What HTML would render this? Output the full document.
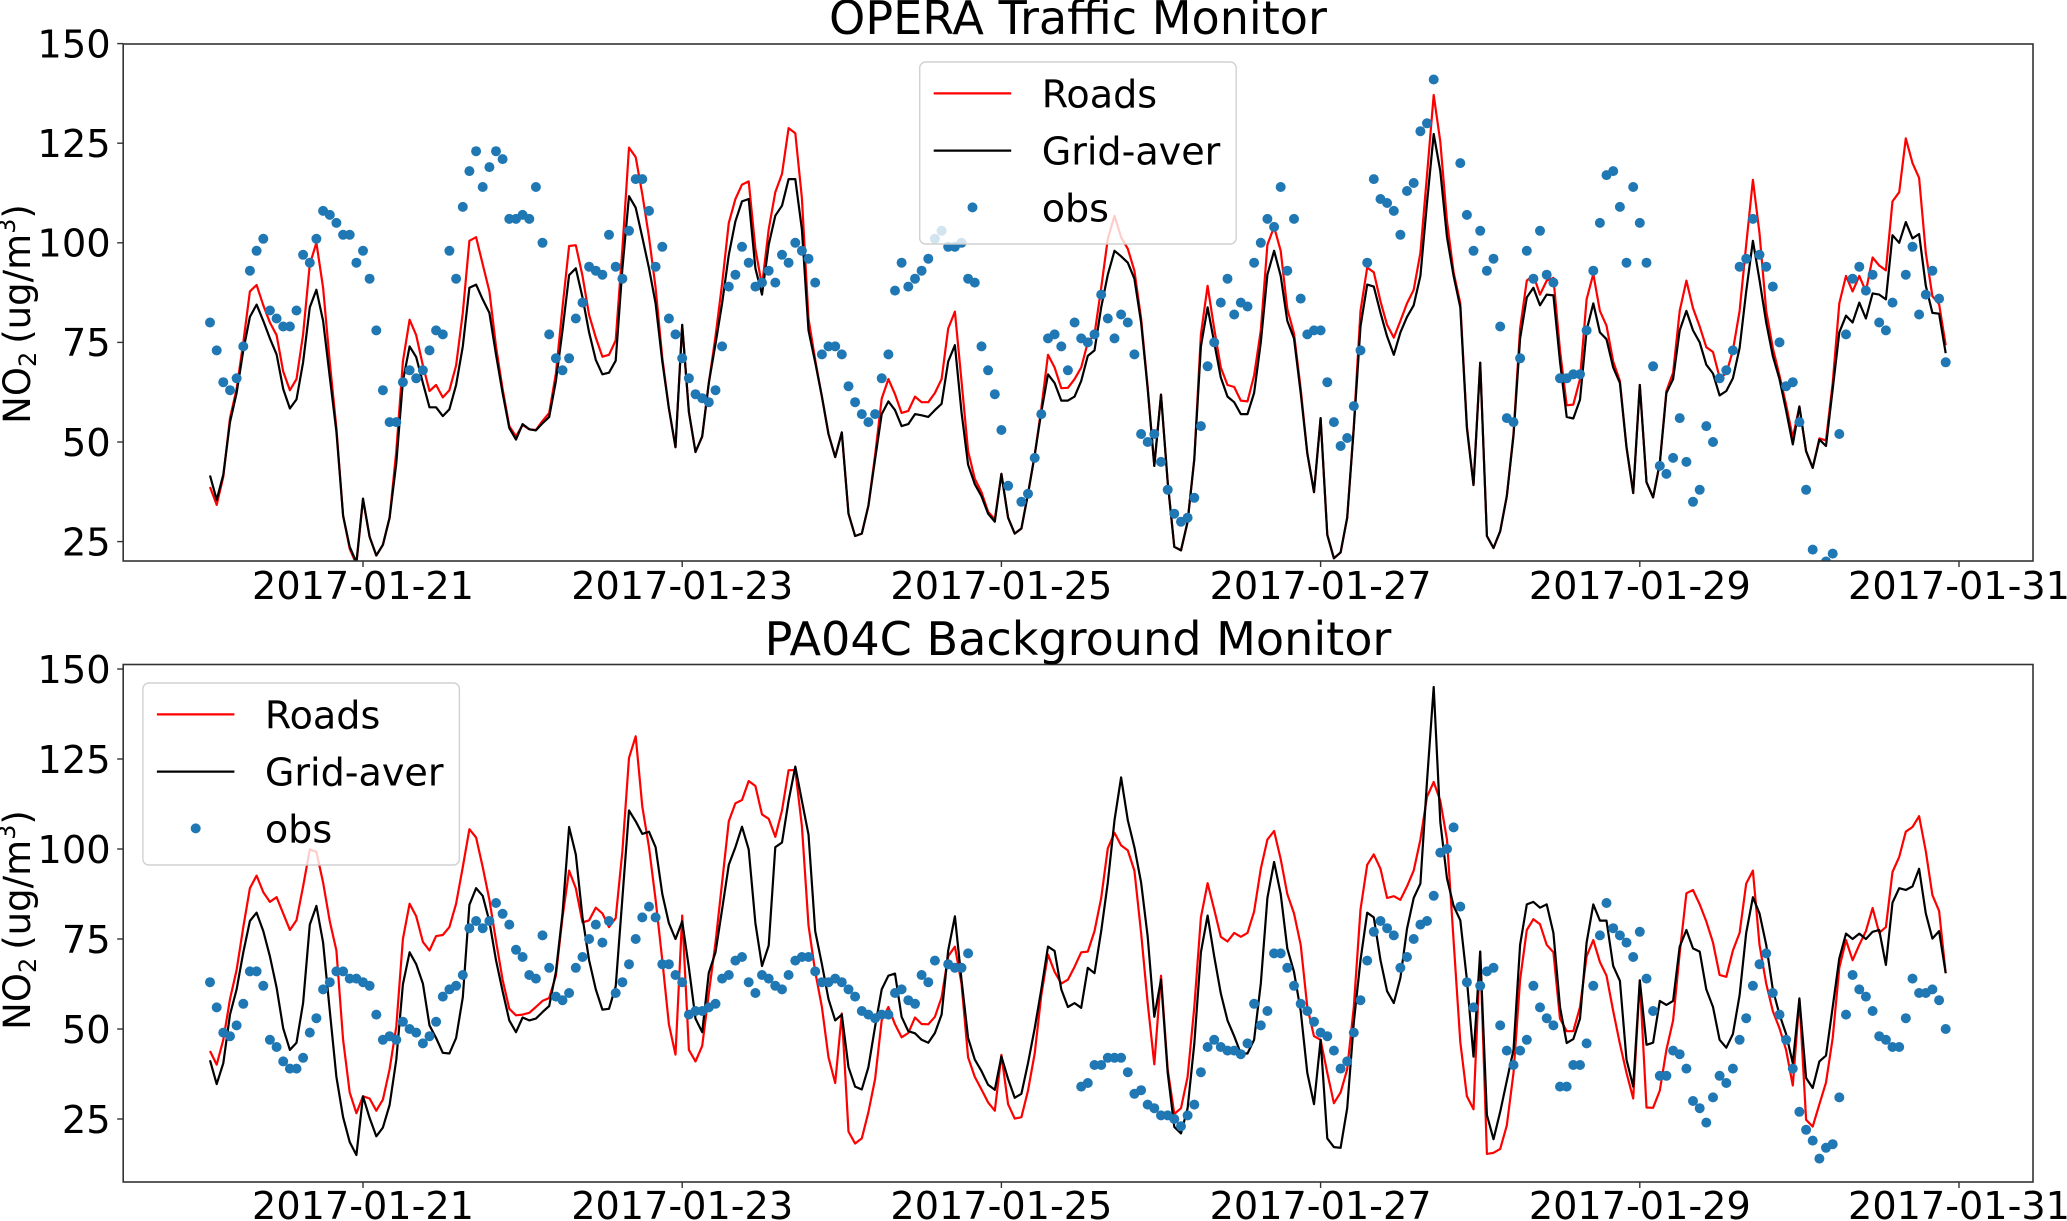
<!DOCTYPE html>
<html>
<head>
<meta charset="utf-8">
<title>NO2 monitors</title>
<style>
html,body{margin:0;padding:0;background:#fff;}
body{width:2067px;height:1221px;overflow:hidden;}
svg{display:block;font-family:"DejaVu Sans","Liberation Sans",sans-serif;}
</style>
</head>
<body>
<svg id="chart" xmlns="http://www.w3.org/2000/svg" width="2067" height="1221" viewBox="0 0 2067 1221">
<rect width="2067" height="1221" fill="#fff"/>
<defs>
<clipPath id="clip-top"><rect x="123.2" y="44" width="1909.8" height="517"/></clipPath>
<clipPath id="clip-bottom"><rect x="123.2" y="664.5" width="1909.8" height="517.5"/></clipPath>
</defs>
<g id="panel-top"></g>
<g id="panel-bottom"></g>
</svg>
<script>
const xTickLabels = ["2017-01-21","2017-01-23","2017-01-25","2017-01-27","2017-01-29","2017-01-31"];
const yTickValues = [25,50,75,100,125,150];

const opRoads = [
38.7,34.2,41.3,56,63.3,75,87.8,89.4,84.3,80,
76.8,67.7,63,65.8,77,94.6,100,88.7,70,53.5,
31.5,23.2,19.3,35.6,26.2,21.5,24.2,31,47.7,70.2,
80.7,76.8,69.2,62.8,64.3,61.2,63,69.2,82.4,100.5,
101.4,94.6,87.8,74,63.3,54,51.4,54.3,53.2,53,
55.3,57.3,67.2,83.8,99.2,99.4,91.7,81.9,76.2,71.4,
71.9,75.5,98.5,123.9,121.5,112.2,101.4,88.7,71.1,58.4,
48.7,79.4,57.5,47.5,51.4,64.8,76.5,89.7,105,111,
114.6,115.4,98.5,89.2,103.4,112.7,117.3,128.8,127.5,111.2,
81,70.6,61.4,52,46.2,52.4,32,26.4,27,34,
46.7,60.9,65.8,62,57.3,57.8,61.4,60,60,62.3,
65.8,78.5,82.7,65.3,47.7,40.8,37.4,32.5,30.6,42,
31,27,28.3,37,46.7,58.4,71.9,68.7,63.5,63.6,
65.8,68.7,75,77,88.7,101,106.8,101.4,98.5,93,
81,63.8,44,61.9,39.9,23.7,22.8,30,45.7,77,
89.2,78.5,68.7,64.3,63.8,60.4,60.2,66.7,78,99.5,
104,98,83.4,77.2,63.3,47.2,37.4,56,26.7,20.8,
22.3,31,54,82.9,93.8,92.6,85.3,79.4,76.2,80.4,
84.8,88.2,97.5,117,137.1,125.4,105.4,92.6,84.8,54,
39.2,69.9,26.4,23.4,27.6,36.4,52.1,78.5,90.5,91.9,
87,90.5,91.2,73,59.2,59.4,65.8,85.8,92.2,82.9,
79.2,70.2,65.3,48.7,37.2,64.3,39.9,36.1,44.7,62.8,
67.4,82.9,90.5,83.6,79,73.8,72.6,66.2,67.2,73,
82.9,99.5,115.8,102.4,82.9,73.6,66.7,59.4,51.1,58.9,
47.7,43.5,50.9,50.4,64.8,84.8,91.7,87.8,91.7,87.8,
96.3,94.3,93.1,110.4,112.7,126.2,120,116.3,97.5,86.6,
84.6,74.3];

const opGrid = [
41.6,35.5,41.8,55,62.3,73,81.4,84.5,80.4,76,
72,63.3,58.4,60.7,70,83.8,88.2,80.4,66.3,52.6,
31.5,23.7,19.8,35.8,26.2,21.5,24.2,31,44.7,65.3,
74,71.3,64.8,58.7,58.7,56.5,58.2,64.3,74,88.7,
89.5,85.8,82.4,72,62.3,53.5,50.6,54.5,53.2,52.9,
54.7,56.3,65.3,78,91.9,93.6,86.3,77.5,70.6,67,
67.4,70.4,93.6,111.7,108.8,101.4,93.6,84.8,70.2,58.4,
48.7,79.4,57.5,47.5,51.4,64.8,74.6,84.8,97,105.4,
110.4,111,93.6,87,99.5,106.8,109.3,116,116,103.4,
78,70,61.4,52,46.2,52.4,32,26.4,27,34,
45.7,57,60.2,58,54,54.5,57,56.7,56.3,58,
59.6,70.2,74.3,57.5,44.3,39.4,36.4,32,30,42,
31,27,28.3,37,46.7,57.5,67,64.8,60.4,60.4,
61.4,65.3,71.6,73,83.8,92,98,96.6,95,91,
80,63.3,44,61.9,39.9,23.7,22.8,30,45.7,74,
83.8,75,66.2,61.4,60,57,57,62.3,75,92,
98,91.7,80.4,76,62.3,47.2,37.4,56,26.7,20.8,
22.3,31,53.5,79,89.5,89,82.4,76.5,71.9,77.5,
81.4,84.3,91.7,110,127.3,118,101.4,91.7,83.8,53.5,
39.2,69.9,26.4,23.4,27.6,36.4,51.6,76,86.3,88.7,
84.3,87,86.8,70.2,56.3,55.9,60.6,78,84.8,77.5,
75.8,68.7,64.8,48.7,37.2,64.3,39.9,36.1,44.7,62.3,
65.8,78,82.9,78,75,69.4,67.2,61.7,62.8,66,
73.6,87.8,100.5,90.7,80,71.6,65.8,57.9,49.4,58.9,
47.7,43.5,50.6,49,63.3,77.5,81.7,80,85,81,
87.3,87,85.8,101.9,100,105.2,101.1,102.2,89.2,82.4,
82.2,72.3];

const opObs = [
80,73,65,63,66,74,93,98,101,83,
81,79,79,83,97,95,101,108,107,105,
102,102,95,98,91,78,63,55,55,65,
68,66,68,73,78,77,98,91,109,118,
123,114,119,123,121,106,106,107,106,114,
100,77,71,68,71,81,85,94,93,92,
102,94,91,103,116,116,108,94,99,81,
77,71,66,62,61,60,63,74,89,92,
99,95,89,90,93,90,97,95,100,98,
96,90,72,74,74,72,64,60,57,55,
57,66,72,88,95,89,91,93,96,101,
103,99,99,100,91,90,74,68,62,53,
39,null,35,37,46,57,76,77,74,68,
80,76,75,77,87,81,76,82,80,72,
52,50,52,45,38,32,30,31,36,54,
69,75,85,91,82,85,84,95,100,106,
104,114,93,106,86,77,78,78,65,55,
49,51,59,73,95,116,111,110,108,102,
113,115,128,130,141,null,null,null,120,107,
98,103,93,96,79,56,55,71,98,91,
103,92,90,66,66,67,67,78,93,105,
117,118,109,95,114,105,95,69,44,42,
46,56,45,35,38,54,50,66,68,73,
94,96,106,97,94,89,75,64,65,55,
38,23,18,20,22,52,77,91,94,88,
92,80,78,85,null,92,99,82,87,93,
86,70];

const paRoads = [
43.9,40.1,47,58.3,66.4,78.3,89.1,92.6,88,85.3,
86.6,82.1,77.5,80.2,89.6,99.9,99.2,90.7,79.9,71.8,
47,32.4,26.6,31.3,30.7,27.3,30.4,38.8,50.7,75,
84.8,81.3,74.2,71.8,75.8,76.1,78.3,84.8,95,105.5,
103.2,95,85.9,74.5,63.7,55.6,53.8,54,54.5,56.1,
57.8,58.6,64.8,81,94,89.1,79.6,80.2,83.7,82.1,
78.3,80.8,99.4,125.3,131.3,111.8,100.5,85.9,69.1,51.3,
42.9,81.5,44.2,41,45.3,59.9,74,90.7,107.7,112.7,
113.6,118.9,117.5,109.6,108.4,103.4,110.7,121.9,121.9,106.4,
78.8,65.9,56.1,42.1,35,54.3,21.5,18.2,19.6,26.9,
36.1,52.4,56.1,51.3,47.7,48.9,53.2,51.4,51.3,53.4,
58.8,70.2,72.9,62.6,42.1,36.7,33.2,29.6,27.3,42.8,
29.1,25.1,25.5,32.9,43.2,59.4,70.7,65.9,62.6,63.7,
67.3,71.3,71.5,77.2,86.4,100.2,104.5,101,99.6,94,
76.7,57.2,40.2,64.8,38.8,26.4,28,36.7,56.1,81,
90.5,83.2,75.6,74.3,76.7,75.6,76.7,82.6,94.5,102.6,
105,97.2,87.5,82.1,73.4,56.1,48,47,37.8,29.4,
32.4,38.8,56.1,83.2,95.6,98.5,94.5,86.4,86.9,85.9,
89.6,94,102.6,114.5,118.6,113.4,102.6,74.5,46.4,31.3,
27.7,71.5,15.3,15.6,16.7,23.2,37.8,63.7,77.5,80.5,
79.1,73.4,71.3,52.9,49.4,49.4,56.1,70.2,74.7,68.6,
64.8,55,45.9,37.8,30.7,63.5,28.2,28.1,32.9,44.2,
52.4,71,87.7,88.6,84.6,79.9,74,65,64.5,71.8,
76.7,90.4,94,73.4,62.6,55,50.2,44.2,34.3,58.3,
24.8,22.9,29.1,35.1,47.5,67,74.7,69.1,73.4,77.2,
83.6,76.7,78.3,93.6,97.8,104.8,106.1,109.1,99.4,87.2,
82.8,65.5];

const paGrid = [
41.3,34.7,40.5,54,61,71.3,80,82.3,77.2,70.2,
61.5,50.2,44.2,46.2,57.2,79,84.2,74,55,36.7,
25.5,18.6,15,31.3,25.3,20.2,22.6,28.9,41.5,62.4,
71.3,68,62.6,51,47.5,43.4,43.2,47.5,58.8,84.5,
89.1,87,79.9,69.1,60.5,52.4,49.1,53.2,52.4,52.9,
54.7,56.4,65.9,82,106.1,98.5,81,69.1,61,55.4,
55.6,61.8,86.4,110.7,107.7,104.2,104.8,100.5,87.5,79.4,
75,79.9,67,52.9,49.1,65.6,71.3,83.2,95.6,100.5,
106.2,99.9,79.4,67.5,73.2,100.5,101.8,113.4,122.9,113.4,
104,77.2,68,58.3,52.4,54,39.4,34,33.2,39.4,
50.7,61,64.8,65.4,53.4,49.4,48.8,47,46.2,48.9,
54,71.8,81.3,63.7,47.5,41.5,38.3,34.5,33.1,42.4,
36.1,30.9,32,40.5,50.2,61,72.9,71.7,61,56.1,
57.2,55.9,67,65.5,77.2,90.7,108,119.9,108,100.5,
90.7,75.6,53.4,63.7,37.8,22.8,21,28,45.9,71.3,
81.5,70.2,59.9,52.4,48,43.2,43.2,47,62.6,86.4,
96.4,87.5,72.4,65.9,55,37.8,29.1,47,19.6,17.2,
17,28,51.8,69.1,82.3,81,69.1,60.5,57.2,64.2,
77.8,86.4,90.4,118.8,145,107.5,91.8,84.2,80.2,63.7,
42.3,71.5,26.1,19.4,27,35.6,44.2,73.4,84.6,85.3,
83.7,84.6,76.7,56.1,46.1,47.2,52.9,74,84.6,80.1,
80.1,67.5,63.4,41.5,34,63.5,45.6,46.2,57.8,56.7,
57.8,72.9,77.5,72.4,71.5,61,56.1,47,44.8,48.6,
59.4,76.7,86.6,82.1,73.4,61,54,48.6,40.5,58.5,
36.4,33.6,41,42.6,56.1,69.6,76.5,75,76.5,75,
77,77.5,67.8,85.1,89.1,88.6,89.6,94.5,82.1,75.1,
77.2,65.5];

const paObs = [
63,56,49,48,51,57,66,66,62,47,
45,41,39,39,42,49,53,61,63,66,
66,64,64,63,62,54,47,48,47,52,
50,49,46,48,52,59,61,62,65,78,
80,78,80,85,82,79,72,70,65,64,
76,67,59,58,60,67,70,75,79,74,
80,60,63,68,75,81,84,81,68,68,
65,63,54,55,55,56,57,64,65,69,
70,63,60,65,64,62,61,65,69,70,
70,66,63,63,64,63,61,59,55,54,
53,54,54,60,61,58,57,65,63,69,
null,68,67,67,71,null,null,null,null,null,
null,null,null,null,null,null,null,null,null,null,
null,34,35,40,40,42,42,42,38,32,
33,29,28,26,26,25,23,26,29,38,
45,47,45,44,44,43,46,57,51,55,
71,71,67,62,57,55,52,49,48,44,
39,41,49,58,69,77,80,78,76,67,
70,75,79,80,87,99,100,106,84,63,
56,62,66,67,51,44,40,44,47,62,
56,53,51,34,34,40,40,46,62,76,
85,78,76,74,70,77,64,55,37,37,
44,43,39,30,28,24,31,37,35,39,
47,53,62,68,71,60,54,47,39,27,
22,19,14,17,18,31,54,65,61,59,
55,48,47,45,45,53,64,60,60,61,
58,50];

/* x axis: hours since 2017-01-20 00:00; first sample at 01:00 */
const firstSampleHour = 1;
const xOrigin = 363;
const xOriginHour = 24;
const pxPerHour = 6.65;
function xScale(hour){ return xOrigin + (hour - xOriginHour) * pxPerHour; }
function dateToHour(label){
  return (Date.parse(label + "T00:00:00Z") - Date.parse("2017-01-20T00:00:00Z")) / 3600000;
}
function makeY(y25, pxPerUnit){
  return function(v){ return y25 - (v - 25) * pxPerUnit; };
}
const NS = "http://www.w3.org/2000/svg";
function el(parent, tag, attrs, text){
  const n = document.createElementNS(NS, tag);
  for (const k in attrs) n.setAttribute(k, attrs[k]);
  if (text !== undefined) n.textContent = text;
  parent.appendChild(n);
  return n;
}
function drawLine(parent, values, yScale, color, name, clip){
  const pts = values.map(function(v, i){
    return xScale(i + firstSampleHour).toFixed(1) + "," + yScale(v).toFixed(1);
  }).join(" ");
  const line = el(parent, "polyline", {points: pts, fill: "none", stroke: color, "stroke-width": 2.2, "stroke-linejoin": "round", "clip-path": "url(#" + clip + ")"});
  
  
}
function drawPanel(cfg){
  const g = document.getElementById(cfg.id);
  const y = makeY(cfg.y25, cfg.pxPerUnit);
  const left = 123.2, right = 2033;

  drawLine(g, cfg.roads, y, "#ff0000", "roads-line", cfg.clip);
  drawLine(g, cfg.grid, y, "#000000", "grid-average-line", cfg.clip);

  const dots = el(g, "g", {"clip-path": "url(#" + cfg.clip + ")"});
  
  
  cfg.obs.forEach(function(v, i){
    if (v === null) return;
    const c = el(dots, "circle", {cx: xScale(i + firstSampleHour).toFixed(1), cy: y(v).toFixed(1), r: 5, fill: "#1f77b4"});
    
    
  });

  const frame = el(g, "rect", {x: left, y: cfg.top, width: right - left, height: cfg.bottom - cfg.top, fill: "none", stroke: "#333", "stroke-width": 1.6});
  
  

  yTickValues.forEach(function(v){
    const ty = y(v);
    const mark = el(g, "line", {x1: left - 6, x2: left, y1: ty, y2: ty, stroke: "#333", "stroke-width": 1.4});
    
    
    const lab = el(g, "text", {x: 110.7, y: ty + 13.8, "text-anchor": "end", "font-size": 38.4, fill: "#000"}, String(v));
    
    
  });
  xTickLabels.forEach(function(label){
    const tx = xScale(dateToHour(label));
    const mark = el(g, "line", {x1: tx, x2: tx, y1: cfg.bottom, y2: cfg.bottom + 6, stroke: "#333", "stroke-width": 1.4});
    
    
    const lab = el(g, "text", {x: tx, y: cfg.xLabelY, "text-anchor": "middle", "font-size": 38.2, fill: "#000"}, label);
    
    
  });

  const title = el(g, "text", {x: 1078, y: cfg.titleY, "text-anchor": "middle", "font-size": 46.1, fill: "#000"}, cfg.title);
  
  

  const yl = el(g, "text", {transform: "translate(30," + cfg.yLabelCenter + ") rotate(-90)", "text-anchor": "middle", "font-size": 37, fill: "#000"});
  
  
  el(yl, "tspan", {}, "NO");
  el(yl, "tspan", {dy: 6, "font-size": 24}, "2");
  el(yl, "tspan", {dy: -6, dx: 8}, "(ug/m");
  el(yl, "tspan", {dy: -15, "font-size": 24}, "3");
  el(yl, "tspan", {dy: 15}, ")");

  const L = cfg.legend;
  const lg = el(g, "g", {});
  
  
  el(lg, "rect", {x: L.x, y: L.y, width: 316.5, height: 182, rx: 6, fill: "#fff", "fill-opacity": 0.8, stroke: "#ccc", "stroke-opacity": 0.9, "stroke-width": 1.4});
  const rows = [
    {text: "Roads", color: "#ff0000", dy: 31.4, key: "legend-entry-roads"},
    {text: "Grid-aver", color: "#000000", dy: 88.6, key: "legend-entry-grid-aver"},
    {text: "obs", color: null, dy: 145.4, key: "legend-entry-obs"}
  ];
  rows.forEach(function(r){
    const row = el(lg, "g", {});
    
    
    const ry = L.y + r.dy;
    if (r.color) {
      el(row, "line", {x1: L.x + 14, x2: L.x + 91.5, y1: ry, y2: ry, stroke: r.color, "stroke-width": 2.2});
    } else {
      el(row, "circle", {cx: L.x + 52.8, cy: ry, r: 5, fill: "#1f77b4"});
    }
    el(row, "text", {x: L.x + 122, y: ry + 14, "font-size": 38.1, fill: "#000"}, r.text);
  });
}

drawPanel({
  id: "panel-top", clip: "clip-top", title: "OPERA Traffic Monitor", titleY: 34,
  top: 44, bottom: 561, y25: 541.6, pxPerUnit: 3.984, xLabelY: 599, yLabelCenter: 314,
  roads: opRoads, grid: opGrid, obs: opObs, legend: {x: 919.7, y: 62}
});
drawPanel({
  id: "panel-bottom", clip: "clip-bottom", title: "PA04C Background Monitor", titleY: 655,
  top: 664.5, bottom: 1182, y25: 1119, pxPerUnit: 3.6, xLabelY: 1219, yLabelCenter: 920,
  roads: paRoads, grid: paGrid, obs: paObs, legend: {x: 142.9, y: 683}
});
</script>
</body>
</html>
